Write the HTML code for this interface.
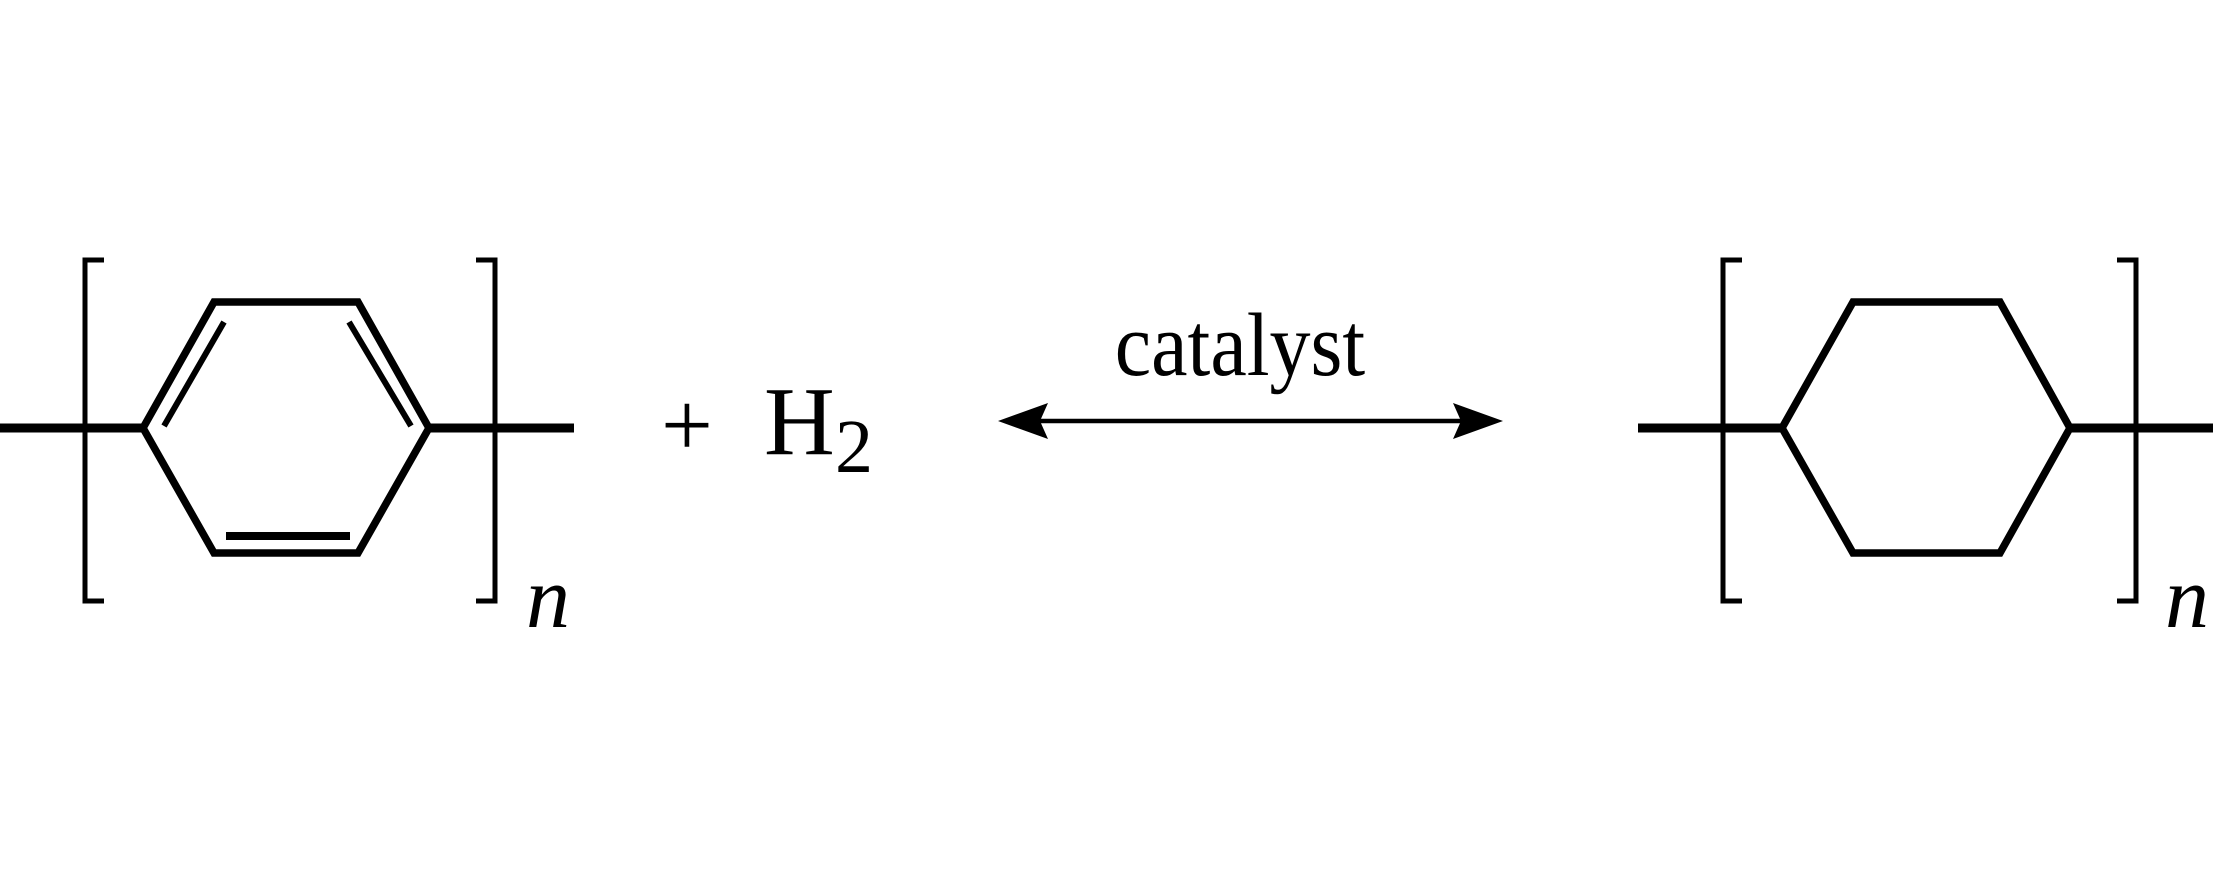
<!DOCTYPE html>
<html><head><style>body{margin:0;background:#fff}svg{display:block}</style></head><body>
<svg width="2213" height="886" viewBox="0 0 2213 886" xmlns="http://www.w3.org/2000/svg">
<g stroke="#000" fill="none" stroke-linecap="butt">
<!-- left monomer -->
<line x1="0" y1="428" x2="143" y2="428" stroke-width="9"/>
<line x1="429" y1="428" x2="574" y2="428" stroke-width="9"/>
<polygon points="143,428 214,302 358,302 429,428 358,553 214,553" stroke-width="7.5" stroke-linejoin="miter"/>
<line x1="164" y1="426" x2="224" y2="322" stroke-width="6"/>
<line x1="411" y1="426" x2="349" y2="322" stroke-width="6"/>
<line x1="226" y1="536" x2="350" y2="536" stroke-width="8"/>
<polyline points="104,260 85,260 85,601 104,601" stroke-width="5"/>
<polyline points="476,260 495,260 495,601 476,601" stroke-width="5"/>
<!-- right monomer -->
<line x1="1638" y1="428" x2="1782" y2="428" stroke-width="9"/>
<line x1="2070" y1="428" x2="2213" y2="428" stroke-width="9"/>
<polygon points="1782,428 1853,302 2000,302 2070,428 2000,553 1853,553" stroke-width="7.5"/>
<polyline points="1742,260 1723,260 1723,601 1742,601" stroke-width="5"/>
<polyline points="2117,260 2136,260 2136,601 2117,601" stroke-width="5"/>
<!-- arrow -->
<line x1="1010" y1="421" x2="1490" y2="421" stroke-width="4.5"/>
</g>
<polygon points="998,421 1048,403 1040,421 1048,439" fill="#000"/>
<polygon points="1503,421 1453,403 1461,421 1453,439" fill="#000"/>
<g font-family="'Liberation Serif',serif" fill="#000">
<text x="1240" y="375" font-size="82" text-anchor="middle" transform="translate(0,-37.5) scale(1,1.1)">catalyst</text>
<text x="687" y="456" font-size="92" text-anchor="middle">+</text>
<text x="764" y="454" font-size="98">H</text>
<text x="835" y="472" font-size="76">2</text>
<text x="526" y="627" font-size="88" font-style="italic">n</text>
<text x="2165" y="627" font-size="88" font-style="italic">n</text>
</g>
</svg>
</body></html>
